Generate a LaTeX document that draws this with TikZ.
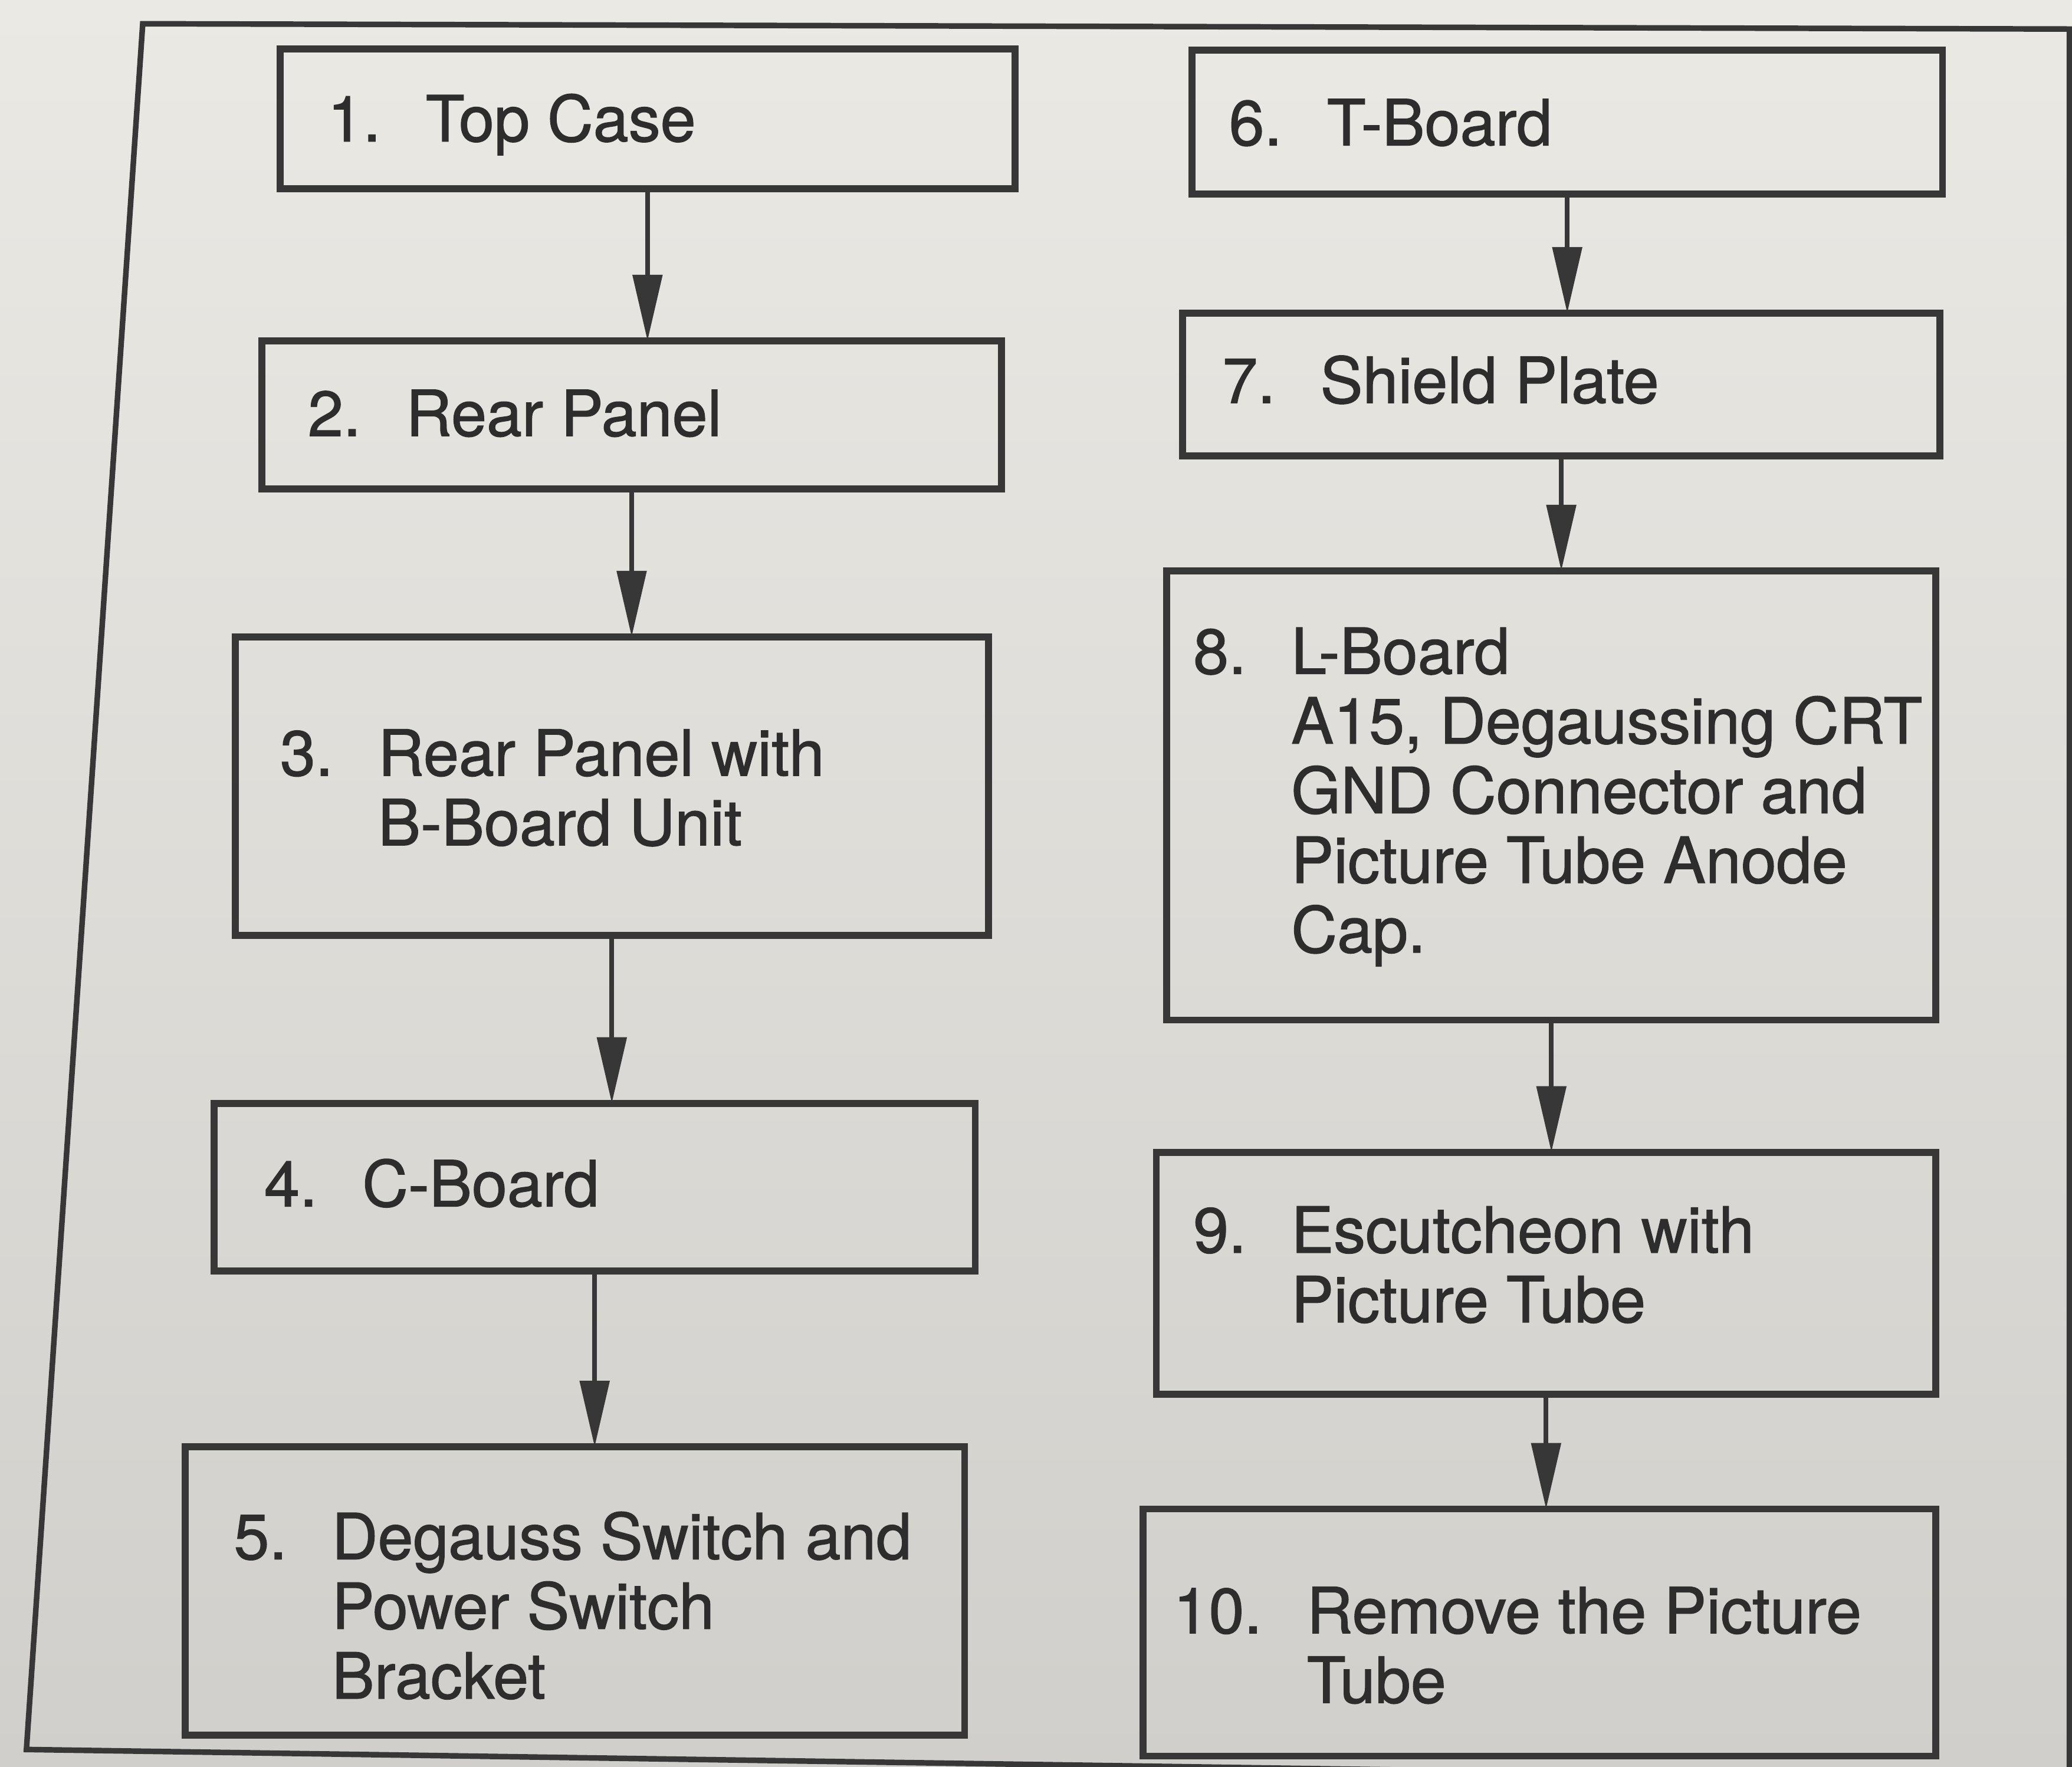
\documentclass[tikz,border=0pt]{standalone}
\usepackage{fontspec}
\setmainfont[FakeBold=1.2,AutoFakeBold=1.2]{TeX Gyre Heros}
\usetikzlibrary{arrows.meta}

\definecolor{flpaperlight}{RGB}{234,233,228}
\definecolor{flpaperdark}{RGB}{208,207,203}
\definecolor{flline}{RGB}{55,55,55}
\definecolor{fltext}{RGB}{45,45,45}

\newcommand{\steptext}[2]{\begin{tabular}[t]{@{}l@{\hspace{0.34cm}}l@{}}#1 & #2\end{tabular}}

\begin{document}
\begin{tikzpicture}[
  x=1cm,
  y=1cm,
  every node/.style={inner sep=0pt, outer sep=0pt},
  stepbox/.style={draw=flline, line width=1.5pt, rectangle, anchor=south west},
  steplabel/.style={anchor=base west, text=fltext, font=\bfseries\fontsize{13.7}{15}\selectfont},
  flow/.style={draw=flline, line width=1pt, -{Triangle[length=5mm,width=2.2mm]}},
  frameline/.style={draw=flline, line width=1.2pt}
]

  \path[use as bounding box] (0,0) rectangle (15.68,13.37);
  \shade[top color=flpaperlight, bottom color=flpaperdark] (0,0) rectangle (15.68,13.37);

  % Outer frame
  \begin{scope}
    \clip (0,0) rectangle (15.68,13.37);
    \draw[frameline] (1.08,13.19) -- (15.66,13.15) -- (15.66,-0.10) -- (0.20,0.13) -- cycle;
  \end{scope}

  % Left column
  \node[stepbox, minimum width=5.56cm, minimum height=1.06cm] (b1) at (2.12,11.94) {};
  \node[stepbox, minimum width=5.60cm, minimum height=1.12cm] (b2) at (1.98,9.67) {};
  \node[stepbox, minimum width=5.70cm, minimum height=2.26cm] (b3) at (1.78,6.29) {};
  \node[stepbox, minimum width=5.76cm, minimum height=1.27cm] (b4) at (1.62,3.75) {};
  \node[stepbox, minimum width=5.90cm, minimum height=2.18cm] (b5) at (1.40,0.24) {};

  \node[steplabel] (t1) at (2.48,12.30) {\steptext{1.}{Top Case}};
  \node[steplabel] (t2) at (2.33,10.07) {\steptext{2.}{Rear Panel}};
  \node[steplabel] (t3) at (2.12,7.50) {\steptext{3.}{Rear Panel with\\ & B-Board Unit}};
  \node[steplabel] (t4) at (2.00,4.24) {\steptext{4.}{C-Board}};
  \node[steplabel] (t5) at (1.77,1.57) {\steptext{5.}{Degauss Switch and\\ & Power Switch\\ & Bracket}};

  % Right column
  \node[stepbox, minimum width=5.68cm, minimum height=1.09cm] (b6) at (9.02,11.90) {};
  \node[stepbox, minimum width=5.73cm, minimum height=1.08cm] (b7) at (8.95,9.92) {};
  \node[stepbox, minimum width=5.82cm, minimum height=3.40cm] (b8) at (8.83,5.65) {};
  \node[stepbox, minimum width=5.90cm, minimum height=1.83cm] (b9) at (8.75,2.82) {};
  \node[stepbox, minimum width=6.00cm, minimum height=1.87cm] (b10) at (8.65,0.08) {};

  \node[steplabel] (t6) at (9.30,12.27) {\steptext{6.}{T-Board}};
  \node[steplabel] (t7) at (9.25,10.32) {\steptext{7.}{Shield Plate}};
  \node[steplabel] (t8) at (9.03,8.27) {\steptext{8.}{L-Board\\ & A15, Degaussing CRT\\ & GND Connector and\\ & Picture Tube Anode\\ & Cap.}};
  \node[steplabel] (t9) at (9.03,3.89) {\steptext{9.}{Escutcheon with\\ & Picture Tube}};
  \node[steplabel] (t10) at (8.88,1.01) {\steptext{10.}{Remove the Picture\\ & Tube}};

  % Arrows
  \draw[flow] (b1.south) -- (b1.south |- b2.north);
  \draw[flow] (b2.south) -- (b2.south |- b3.north);
  \draw[flow] (b3.south) -- (b3.south |- b4.north);
  \draw[flow] (b4.south) -- (b4.south |- b5.north);
  \draw[flow] (b6.south) -- (b6.south |- b7.north);
  \draw[flow] (b7.south) -- (b7.south |- b8.north);
  \draw[flow] (b8.south) -- (b8.south |- b9.north);
  \draw[flow] (b9.south) -- (b9.south |- b10.north);

\end{tikzpicture}
\end{document}
